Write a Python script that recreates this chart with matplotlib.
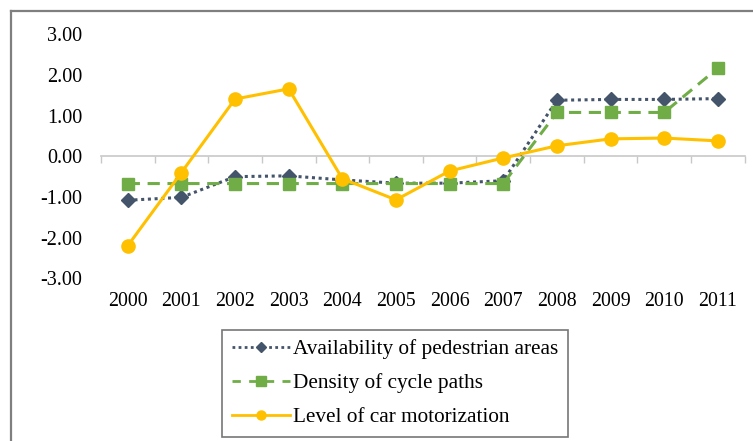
import matplotlib
matplotlib.use('Agg')
import matplotlib.pyplot as plt
from matplotlib.lines import Line2D

years = ['2000', '2001', '2002', '2003', '2004', '2005',
         '2006', '2007', '2008', '2009', '2010', '2011']
pedestrian = [-1.08, -1.01, -0.50, -0.48, -0.58, -0.66,
              -0.66, -0.60, 1.38, 1.40, 1.40, 1.42]
cycle_paths = [-0.67, -0.67, -0.67, -0.67, -0.67, -0.67,
               -0.67, -0.67, 1.08, 1.08, 1.08, 2.17]
car_motor = [-2.20, -0.40, 1.41, 1.66, -0.55, -1.07,
             -0.36, -0.04, 0.26, 0.43, 0.45, 0.38]
yticks = [-3, -2, -1, 0, 1, 2, 3]

plt.rcParams['font.family'] = ['Liberation Serif', 'DejaVu Serif']

fig = plt.figure(figsize=(7.53, 4.41), dpi=100)
ax = fig.add_axes([0.134, 0.369, 0.855, 0.553])

x = list(range(len(years)))
ax.plot(x, pedestrian, color='#44546A', linestyle=(0, (1, 1.2)), linewidth=2.2,
        marker='D', markersize=7, label='Availability of pedestrian areas')
ax.plot(x, cycle_paths, color='#70AD47', linestyle=(0, (4, 2.5)), linewidth=2.2,
        marker='s', markersize=9, label='Density of cycle paths')
ax.plot(x, car_motor, color='#FFC000', linestyle='-', linewidth=2.2,
        marker='o', markersize=9.5, label='Level of car motorization')

ax.set_xlim(-0.5, len(years) - 0.5)
ax.set_ylim(-3, 3)
ax.set_yticks(yticks)
ax.set_yticklabels([f'{v:.2f}' for v in yticks])
ax.tick_params(axis='y', length=0, pad=13.5, labelsize=14.5)

ax.set_xticks(x)
ax.set_xticklabels(years)
ax.tick_params(axis='x', length=0, pad=10, labelsize=14.3)

for s in ax.spines.values():
    s.set_visible(False)

# zero axis line with category boundary ticks
sec = ax.secondary_xaxis(0.5)
sec.set_xticks([i - 0.5 for i in range(len(years) + 1)])
sec.set_xticklabels([])
sec.tick_params(axis='x', direction='in', length=5, width=1, color='#C8C8C8')
for s in sec.spines.values():
    s.set_color('#C8C8C8')
    s.set_linewidth(1.2)

handles = [
    Line2D([], [], color='#44546A', linestyle=(0, (1, 1.2)), linewidth=2,
           marker='D', markersize=5.5),
    Line2D([], [], color='#70AD47', linestyle=(0, (3, 3)), linewidth=2,
           marker='s', markersize=6.5),
    Line2D([], [], color='#FFC000', linestyle='-', linewidth=2,
           marker='o', markersize=6.5),
]
labels = ['Availability of pedestrian areas', 'Density of cycle paths',
          'Level of car motorization']
leg = fig.legend(handles, labels, loc='upper left',
                 bbox_to_anchor=(222 / 753, 1 - 330 / 441), fontsize=15.3,
                 frameon=True, fancybox=False, handlelength=2.75,
                 handletextpad=0.15, labelspacing=0.66, borderpad=0.45,
                 borderaxespad=0)
leg.get_frame().set_edgecolor('#555555')
leg.get_frame().set_linewidth(1.2)

# outer chart border (left and top visible)
fig.add_artist(Line2D([11 / 753, 11 / 753], [0, 1 - 11 / 441],
                      transform=fig.transFigure, color='#7F7F7F', linewidth=1.6))
fig.add_artist(Line2D([11 / 753, 1], [1 - 11 / 441, 1 - 11 / 441],
                      transform=fig.transFigure, color='#7F7F7F', linewidth=1.6))

fig.savefig('out.png', dpi=100)
